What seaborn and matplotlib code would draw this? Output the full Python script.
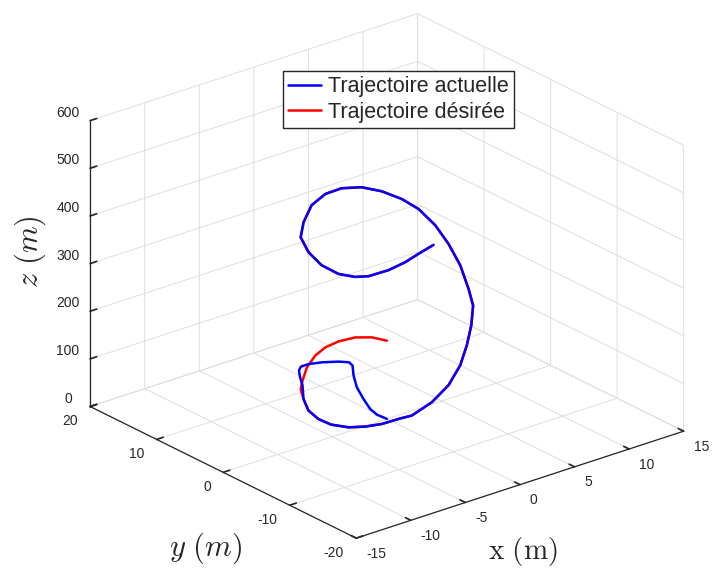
import numpy as np
import matplotlib
matplotlib.use("Agg")
import matplotlib.pyplot as plt
import seaborn as sns

# 1. Data (metres)
# desired trajectory: lead-in part before it meets the actual one
red_lead_x = [3.51, 2.46, 1.16, -0.32, -1.66, -2.83, -4.03, -4.90, -5.76]
red_lead_y = [5.76, 6.29, 6.65, 6.74, 6.54, 6.13, 5.41, 4.65, 3.51]
red_lead_z = [98.0, 109.2, 116.3, 118.4, 117.2, 111.5, 100.8, 84.6, 80.8]

# actual trajectory: take-off from the origin until it joins the path
blue_lead_x = [0.0, -0.76, -1.26, -1.77, -2.27, -2.52, -2.60, -2.79, -3.37, -4.33, -5.10, -5.54, -5.80, -5.85, -5.90]
blue_lead_y = [0.0, 0.26, 0.44, 0.61, 0.79, 0.87, 0.90, 1.09, 1.67, 2.63, 3.40, 3.84, 3.70, 3.45, 3.00]
blue_lead_z = [0.0, 12.7, 27.0, 50.6, 77.7, 103.5, 125.0, 132.0, 133.8, 132.9, 129.7, 124.5, 119.0, 107.1, 93.1]

# common part (both curves overlap)
path_x = [-6.47, -6.70, -6.71, -6.41, -5.71, -4.85, -3.84, -2.70, -1.70, 0.00,
          1.66, 3.05, 4.02, 4.90, 5.76, 6.59, 6.75, 6.58, 6.14, 5.38,
          4.45, 3.15, 1.67, -0.04, -1.66, -3.32, -4.66, -5.76, -6.70, -6.66,
          -6.14, -5.38, -4.66, -3.41, -2.21, -1.16, 0.15]
path_y = [1.92, 0.79, -0.73, -2.12, -3.60, -4.70, -5.55, -6.19, -6.53, -6.75,
          -6.54, -6.02, -5.42, -4.65, -3.51, -1.47, 0.05, 1.52, 2.80, 4.07,
          5.08, 5.97, 6.54, 6.75, 6.54, 5.88, 4.88, 3.51, 0.79, -1.10,
          -2.80, -4.07, -4.88, -5.83, -6.38, -6.65, -6.75]
path_z = [76.7, 61.9, 54.8, 50.6, 49.8, 52.5, 56.3, 62.8, 64.7, 81.4,
          103.3, 131.2, 161.7, 191.9, 218.9, 233.3, 271.5, 307.2, 341.0, 372.1,
          393.1, 412.9, 428.4, 437.6, 439.1, 432.4, 413.7, 400.0, 394.4, 379.9,
          369.4, 366.2, 367.9, 377.8, 389.3, 400.9, 410.5]

x_ticks = [-15, -10, -5, 0, 5, 10, 15]
y_ticks = [-20, -10, 0, 10, 20]
z_ticks = [0, 100, 200, 300, 400, 500, 600]

labels = ["Trajectoire actuelle", "Trajectoire désirée"]


def plot_trajectory():
    sns.set_theme(style="white")
    plt.rcParams["font.family"] = ["Liberation Sans", "DejaVu Sans"]
    plt.rcParams["mathtext.fontset"] = "cm"
    plt.rcParams["axes.unicode_minus"] = False
    plt.rcParams["grid.color"] = "#dedede"
    plt.rcParams["grid.linewidth"] = 0.7
    plt.rcParams["axes.edgecolor"] = "#262626"
    plt.rcParams["axes.linewidth"] = 0.9

    blue, red = sns.color_palette(["#0000ff", "#ff0000"])
    tick_col = "#262626"

    x_red = red_lead_x + path_x
    y_red = red_lead_y + path_y
    z_red = red_lead_z + path_z
    x_blue = blue_lead_x + path_x
    y_blue = blue_lead_y + path_y
    z_blue = blue_lead_z + path_z

    fig = plt.figure(figsize=(7.18, 5.71), dpi=100)
    ax = fig.add_axes([0.0281, 0.0033, 1, 1], projection="3d", proj_type="ortho")
    ax.view_init(elev=23.7, azim=-129.1)
    ax.set_box_aspect((1, 1, 0.74), zoom=1.145)

    line_red, = ax.plot(x_red, y_red, z_red, color=red, linewidth=1.8,
                        solid_joinstyle="round", solid_capstyle="round")
    line_blue, = ax.plot(x_blue, y_blue, z_blue, color=blue, linewidth=1.8,
                         solid_joinstyle="round", solid_capstyle="round")

    ax.set_xlim(-15, 15)
    ax.set_ylim(-20, 20)
    ax.set_zlim(0, 600)
    # MATLAB puts the labels below-right (x), below-left (y) and left (z)
    ax.set_xticks(x_ticks, labels=[str(v) for v in x_ticks], ha="left", va="center")
    ax.set_yticks(y_ticks, labels=[str(v) for v in y_ticks], ha="right", va="center")
    ax.set_zticks(z_ticks, labels=[str(v) for v in z_ticks], ha="center", va="bottom")
    ax.tick_params(labelsize=10, colors=tick_col, pad=0)
    ax.tick_params(axis="z", labelsize=10, colors=tick_col, pad=0)

    for axis in (ax.xaxis, ax.yaxis, ax.zaxis):
        axis.set_pane_color((1, 1, 1, 0))
        axis.pane.set_edgecolor("#dedede")
        axis._axinfo["tick"]["inward_factor"] = 0.0
        axis._axinfo["tick"]["outward_factor"] = 0.25

    fig.text(0.042, 0.559, r"$z\ (m)$", fontsize=22, rotation=90, ha="center", va="center")
    fig.text(0.286, 0.040, r"$y\ (m)$", fontsize=22, ha="center", va="center")
    fig.text(0.728, 0.035, r"$\mathrm{x\ (m)}$", fontsize=21, ha="center", va="center")

    fig.legend([line_blue, line_red], labels, loc="upper left",
               bbox_to_anchor=(283 / 718, 1 - 71 / 571), borderaxespad=0,
               fontsize=15.5, fancybox=False, framealpha=1, edgecolor="#262626",
               handlelength=1.5, borderpad=0.25, labelspacing=0.2, handletextpad=0.35)

    fig.savefig("out.png", dpi=100)


if __name__ == "__main__":
    plot_trajectory()
